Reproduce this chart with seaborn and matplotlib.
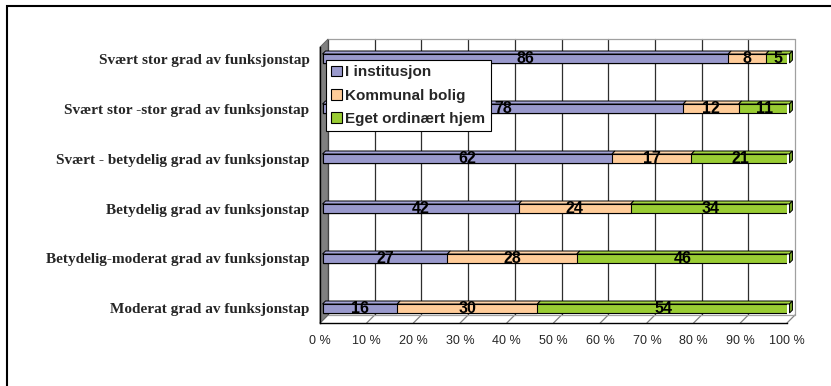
import numpy as np
import matplotlib
matplotlib.use("Agg")
import matplotlib.pyplot as plt
import matplotlib.transforms as mtransforms
from matplotlib.patches import Polygon, Rectangle, Patch
from matplotlib.lines import Line2D
import seaborn as sns

# ---- data -------------------------------------------------------------
categories = [
    "Svært stor grad av funksjonstap",
    "Svært stor -stor grad av funksjonstap",
    "Svært - betydelig grad av funksjonstap",
    "Betydelig grad av funksjonstap",
    "Betydelig-moderat grad av funksjonstap",
    "Moderat grad av funksjonstap",
]
series_names = ["I institusjon", "Kommunal bolig", "Eget ordinært hjem"]
institusjon = [86, 78, 62, 42, 27, 16]
kommunal_bolig = [8, 12, 17, 24, 28, 30]
eget_hjem = [5, 11, 21, 34, 46, 54]
x_tick_values = [0, 10, 20, 30, 40, 50, 60, 70, 80, 90, 100]
x_tick_labels = ["0 %", "10 %", "20 %", "30 %", "40 %", "50 %",
                 "60 %", "70 %", "80 %", "90 %", "100 %"]

# ---- styles -----------------------------------------------------------
face_colors = ["#9999CC", "#FFCC99", "#99CC33"]
top_colors = ["#A3A3D6", "#FFD3A8", "#A2D43F"]
end_color = "#6F9A22"
sns.set_style("white")
plt.rcParams["font.family"] = ["Liberation Sans", "DejaVu Sans"]

W, H = 831, 386
fig = plt.figure(figsize=(W / 100, H / 100), dpi=100)
# front plane of the plot box in pixels
left_px, right_px, top_px, bottom_px = 320, 787, 47, 323
ax = fig.add_axes([left_px / W, 1 - bottom_px / H,
                   (right_px - left_px) / W, (bottom_px - top_px) / H])

# ---- 100 % stacked shares -------------------------------------------------
raw = np.array([institusjon, kommunal_bolig, eget_hjem], dtype=float)
shares = raw / raw.sum(axis=0) * 100
cum_end = np.cumsum(shares, axis=0)
cum_start = cum_end - shares

bar_h = 0.18
bar_shift = 2.5          # bars sit slightly behind the front plane
depth = 8                # full depth of the 3-D box in pixels
bar_depth = 3

# layered stacked bars: totals first, then partial sums on top
for k in reversed(range(3)):
    sns.barplot(x=cum_end[k], y=categories, orient="h", color=face_colors[k],
                saturation=1, width=bar_h, edgecolor="black", linewidth=0.8,
                ax=ax, zorder=3)

ymin_data, ymax_data = -0.23, 5.29
ax.set_xlim(0, 100)
ax.set_ylim(ymax_data, ymin_data)

bar_tr = mtransforms.offset_copy(ax.transData, fig=fig, x=bar_shift, y=0, units="dots")
for p in ax.patches:
    p.set_transform(bar_tr)


def disp(x, y, dx=0.0, dy=0.0):
    X, Y = ax.transData.transform((x, y))
    return (X + dx, Y + dy)


ident = mtransforms.IdentityTransform()

# ---- 3-D box: walls, floor, gridlines ----------------------------------
left_wall = Polygon([disp(0, ymin_data), disp(0, ymax_data),
                     disp(0, ymax_data, depth, depth), disp(0, ymin_data, depth, depth)],
                    closed=True, facecolor="#808080", edgecolor="#606060", lw=0.6,
                    transform=ident, clip_on=False, zorder=1)
ax.add_artist(left_wall)

for t in x_tick_values:
    col = "#A0A0A0" if t == 100 else "#2E2E2E"
    p0 = disp(t, ymax_data, depth, depth)
    p1 = disp(t, ymin_data, depth, depth)
    ax.add_artist(Line2D([p0[0], p1[0]], [p0[1], p1[1]], color=col, lw=0.9,
                         transform=ident, clip_on=False, zorder=0.5))
    f0 = disp(t, ymax_data)
    ax.add_artist(Line2D([f0[0], p0[0]], [f0[1], p0[1]], color="#808080", lw=0.9,
                         transform=ident, clip_on=False, zorder=0.6))

for yv in (ymin_data, ymax_data):
    a = disp(0, yv, depth, depth)
    b = disp(100, yv, depth, depth)
    ax.add_artist(Line2D([a[0], b[0]], [a[1], b[1]], color="#A0A0A0", lw=0.9,
                         transform=ident, clip_on=False, zorder=0.6))

# ---- 3-D bar faces ---------------------------------------------------------
for i in range(len(categories)):
    ytop = i - bar_h / 2
    ybot = i + bar_h / 2
    for k in range(3):
        a = disp(cum_start[k, i], ytop, bar_shift)
        b = disp(cum_end[k, i], ytop, bar_shift)
        top = Polygon([a, b, (b[0] + bar_depth, b[1] + bar_depth),
                       (a[0] + bar_depth, a[1] + bar_depth)], closed=True,
                      facecolor=top_colors[k], edgecolor="black", lw=0.7,
                      transform=ident, clip_on=False, zorder=3.2)
        ax.add_artist(top)
    e1 = disp(cum_end[2, i], ytop, bar_shift)
    e0 = disp(cum_end[2, i], ybot, bar_shift)
    end = Polygon([e0, e1, (e1[0] + bar_depth, e1[1] + bar_depth),
                   (e0[0] + bar_depth, e0[1] + bar_depth)], closed=True,
                  facecolor=end_color, edgecolor="black", lw=0.7,
                  transform=ident, clip_on=False, zorder=3.2)
    ax.add_artist(end)

# value labels
for i in range(len(categories)):
    for k in range(3):
        cx = (cum_start[k, i] + cum_end[k, i]) / 2
        ax.text(cx, i, f"{int(raw[k, i])}", transform=bar_tr, ha="center",
                va="center", fontsize=11.5, fontweight="bold", color="black",
                zorder=4)

# ---- axes ---------------------------------------------------------------
for s in ("top", "right"):
    ax.spines[s].set_visible(False)
for s in ("left", "bottom"):
    ax.spines[s].set_color("black")
    ax.spines[s].set_linewidth(1.0)
    ax.spines[s].set_zorder(2)
ax.set_facecolor("none")
ax.set_xlabel("")
ax.set_ylabel("")

ax.set_xticks(x_tick_values)
ax.set_xticklabels(x_tick_labels, fontsize=9)
ax.tick_params(axis="x", direction="out", length=4.5, width=0.9, color="black", pad=4)

ax.set_yticks(range(len(categories)))
ax.set_yticklabels(categories, fontsize=11, fontweight="bold",
                   family=["Liberation Serif", "DejaVu Serif"])
ax.tick_params(axis="y", which="major", length=0, pad=7.5)
ax.set_yticks(np.linspace(ymin_data, ymax_data, 12), minor=True)
ax.tick_params(axis="y", which="minor", direction="out", length=4.5, width=0.9, color="black")
ax.grid(False)

# ---- legend ---------------------------------------------------------------
handles = [Patch(facecolor=c, edgecolor="black", lw=0.8) for c in face_colors]
leg = ax.legend(handles, series_names, loc="upper left",
                bbox_to_anchor=(325.7 / W, 1 - 60 / H), bbox_transform=fig.transFigure,
                borderaxespad=0, frameon=True, fancybox=False, framealpha=1,
                edgecolor="black", borderpad=0.35, handlelength=0.72,
                handleheight=0.72, handletextpad=0.22, labelspacing=0.6,
                prop={"family": "Liberation Sans", "weight": "bold", "size": 11})
leg.get_frame().set_linewidth(0.8)
leg.set_zorder(10)

# ---- outer frame ----------------------------------------------------------
fig.add_artist(Rectangle((7 / W, -0.5), 2.0, 1.5 - 6 / H, transform=fig.transFigure,
                         fill=False, edgecolor="black", lw=1.5))

fig.savefig("out.png", dpi=100)
